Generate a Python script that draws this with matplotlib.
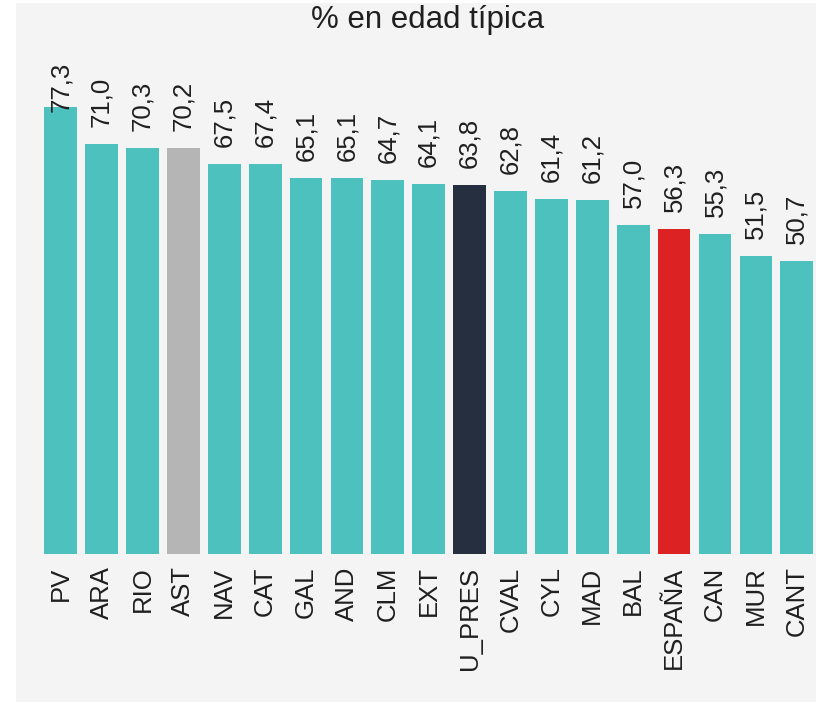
import matplotlib
matplotlib.use("Agg")
import matplotlib.pyplot as plt
from matplotlib.patches import Rectangle

categories = ["PV", "ARA", "RIO", "AST", "NAV", "CAT", "GAL", "AND", "CLM", "EXT",
              "U_PRES", "CVAL", "CYL", "MAD", "BAL", "ESPAÑA", "CAN", "MUR", "CANT"]
values = [77.3, 71.0, 70.3, 70.2, 67.5, 67.4, 65.1, 65.1, 64.7, 64.1,
          63.8, 62.8, 61.4, 61.2, 57.0, 56.3, 55.3, 51.5, 50.7]
value_labels = ["77,3", "71,0", "70,3", "70,2", "67,5", "67,4", "65,1", "65,1", "64,7", "64,1",
                "63,8", "62,8", "61,4", "61,2", "57,0", "56,3", "55,3", "51,5", "50,7"]
title = "% en edad típica"

teal = "#4dc1bd"
special = {"AST": "#b5b5b5", "U_PRES": "#252f3f", "ESPAÑA": "#dc2223"}
colors = [special.get(c, teal) for c in categories]

plt.rcParams['font.family'] = ['Liberation Sans', 'DejaVu Sans']
W, H = 816, 702
fig = plt.figure(figsize=(W / 100, H / 100), dpi=100)
fig.patch.set_facecolor("white")
bg = "#f4f4f4"
fig.patches.append(Rectangle((16 / W, 0), 1 - 16 / W, 1 - 3 / H, transform=fig.transFigure,
                             facecolor=bg, edgecolor="none", zorder=-5))

ax_l, ax_r, ax_t, ax_b = 39, 816, 40, 554
ax = fig.add_axes([ax_l / W, 1 - ax_b / H, (ax_r - ax_l) / W, (ax_b - ax_t) / H])
ax.set_zorder(1)
ax.set_facecolor(bg)
ymax = (ax_b - ax_t) / 5.78
ax.set_ylim(0, ymax)
ax.set_xlim(-0.53, 18.47)

x = list(range(len(categories)))
ax.bar(x, values, width=0.8, color=colors, zorder=2)

# label placement: offset above bar, clamped inside plot area top
px_per_unit = 5.78
offset = 17 / px_per_unit
lab_h = 50 / px_per_unit
top_lim = (ax_b - 62) / px_per_unit
for xi, v, lab in zip(x, values, value_labels):
    yb = min(v + offset, top_lim - lab_h)
    ax.text(xi, yb, lab, rotation=90, ha="center", va="bottom",
            fontsize=18.5, color="#1f1f1f", zorder=3)

ax.set_xticks(x)
ax.set_xticklabels(categories, rotation=90, fontsize=18.5, color="#1f1f1f")
ax.tick_params(axis="x", length=0, pad=9)
ax.set_yticks([])
for s in ax.spines.values():
    s.set_visible(False)

fig.text((ax_l + ax_r) / 2 / W, 1 - 20 / H, title, ha="center", va="center",
         fontsize=22.5, color="#1f1f1f")

fig.savefig("out.png", dpi=100, facecolor=fig.get_facecolor())
